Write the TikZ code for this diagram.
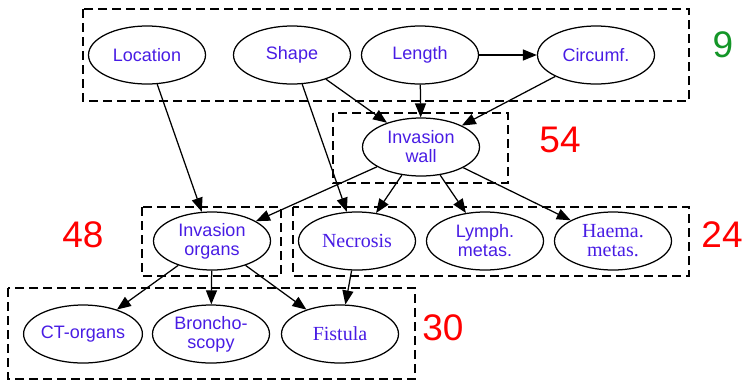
\documentclass[tikz,border=0pt]{standalone}
\usepackage{fontspec}
\setmainfont{Liberation Serif}
\setsansfont{Liberation Sans}
\usetikzlibrary{shapes.geometric,arrows.meta}
\definecolor{txt}{RGB}{72,28,228}
\definecolor{grn}{RGB}{20,150,40}
\definecolor{rd}{RGB}{255,0,0}
\begin{document}
\begin{tikzpicture}[x=1pt,y=-1pt,
  nd/.style={ellipse,draw,line width=1.25pt,minimum width=117pt,minimum height=58pt,inner sep=0pt,align=center,text=txt,font=\sffamily\fontsize{18}{19}\selectfont},
  nds/.style={nd,font=\rmfamily\fontsize{20}{19}\selectfont},
  grp/.style={draw,line width=1.2pt,dash pattern=on 9pt off 5pt},
  num/.style={font=\sffamily\fontsize{37}{40}\selectfont,inner sep=0pt},
  arr/.style={-{Triangle[length=14pt,width=11pt]},line width=1.25pt}]
\useasboundingbox (0,0) rectangle (747,381);
% groups
\draw[grp] (83,9) rectangle (689,101);
\draw[grp] (333,113) rectangle (508,183);
\draw[grp] (142,207) rectangle (281,276);
\draw[grp] (293,207) rectangle (689,276);
\draw[grp] (8,288) rectangle (415,379);
% numbers
\node[num,text=grn] (n9) at (723,45) {9};
\node[num,text=rd] (n54) at (560,140) {54};
\node[num,text=rd] (n48) at (83,235) {48};
\node[num,text=rd] (n24) at (722,235) {24};
\node[num,text=rd] (n30) at (443,328) {30};
% nodes
\node[nd] (loc) at (147,55) {Location};
\node[nd] (shp) at (292,55) {Shape};
\node[nd] (len) at (420,55) {Length};
\node[nd] (cir) at (596,55) {Circumf.};
\node[nd] (wal) at (421,147) {Invasion\\wall};
\node[nd] (org) at (212,241) {Invasion\\organs};
\node[nds] (nec) at (357,241) {Necrosis};
\node[nd] (lym) at (485,241) {Lymph.\\metas.};
\node[nds] (hae) at (613,241) {Haema.\\metas.};
\node[nd] (ct) at (83,334) {CT-organs};
\node[nd] (bro) at (211,334) {Broncho-\\scopy};
\node[nds] (fis) at (340,334) {Fistula};
% edges
\draw[arr] (loc) -- (org);
\draw[arr] (shp) -- (wal);
\draw[arr] (shp) -- (nec);
\draw[arr] (len) -- (cir);
\draw[arr] (len) -- (wal);
\draw[arr] (cir) -- (wal);
\draw[arr] (wal) -- (org);
\draw[arr] (wal) -- (nec);
\draw[arr] (wal) -- (lym);
\draw[arr] (wal) -- (hae);
\draw[arr] (org) -- (ct);
\draw[arr] (org) -- (bro);
\draw[arr] (org) -- (fis);
\draw[arr] (nec) -- (fis);
\end{tikzpicture}
\end{document}
